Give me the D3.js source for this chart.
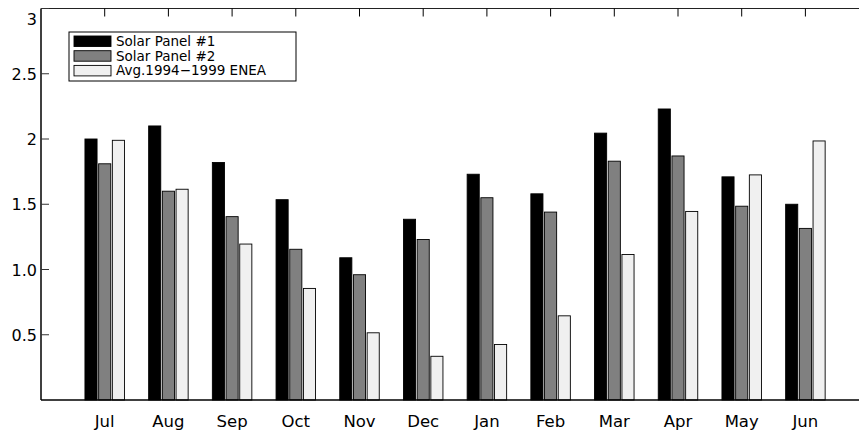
<!DOCTYPE html>
<html>
<head>
<meta charset="utf-8">
<script src="https://cdn.jsdelivr.net/npm/d3@7"></script>
<style>
  body { margin: 0; background: #fff; }
  svg text { font-family: "DejaVu Sans", sans-serif; fill: #000; }
</style>
</head>
<body>
<svg id="chart"></svg>
<script>
// data
var months = ["Jul", "Aug", "Sep", "Oct", "Nov", "Dec", "Jan", "Feb", "Mar", "Apr", "May", "Jun"];
var panel1 = [2.00, 2.10, 1.82, 1.535, 1.09, 1.385, 1.73, 1.58, 2.045, 2.23, 1.71, 1.50];
var panel2 = [1.81, 1.60, 1.405, 1.155, 0.96, 1.23, 1.55, 1.44, 1.83, 1.87, 1.485, 1.315];
var enea   = [1.99, 1.615, 1.195, 0.855, 0.515, 0.335, 0.425, 0.645, 1.115, 1.445, 1.725, 1.985];
var seriesNames = ["Solar Panel #1", "Solar Panel #2", "Avg.1994\u22121999 ENEA"];
var seriesColors = ["#000000", "#808080", "#f0f0f0"];
var yTicks = [0.5, 1.0, 1.5, 2, 2.5, 3];
var yTickLabels = ["0.5", "1.0", "1.5", "2", "2.5", "3"];

var width = 859, height = 432;
var plotLeft = 41, plotTop = 8.5, plotBottom = 400;

var svg = d3.select("#chart")
    .attr("width", width)
    .attr("height", height);

var x = d3.scaleLinear().domain([0, 13]).range([plotLeft, plotLeft + 13 * 63.7]);
var y = d3.scaleLinear().domain([0, 3]).range([plotBottom, plotTop]);

var series = [panel1, panel2, enea];
var barW = 0.19, step = 0.215;

// bars
series.forEach(function(vals, k) {
    svg.append("g").selectAll("rect")
        .data(vals)
        .join("rect")
        .attr("x", (d, i) => x(i + 1 + (k - 1) * step - barW / 2))
        .attr("width", x(barW) - x(0))
        .attr("y", d => y(d))
        .attr("height", d => y(0) - y(d))
        .attr("fill", seriesColors[k])
        .attr("stroke", "#000")
        .attr("stroke-width", 0.9);
});

// frame (left, top, bottom)
svg.append("line").attr("x1", plotLeft).attr("x2", plotLeft).attr("y1", y(3)).attr("y2", y(0))
    .attr("stroke", "#000").attr("stroke-width", 1.5);
svg.append("line").attr("x1", plotLeft).attr("x2", width).attr("y1", y(0)).attr("y2", y(0))
    .attr("stroke", "#000").attr("stroke-width", 1.5);
svg.append("line").attr("x1", plotLeft).attr("x2", width).attr("y1", y(3)).attr("y2", y(3))
    .attr("stroke", "#222").attr("stroke-width", 1.2);

// y ticks (inward) and labels
svg.append("g").selectAll("line")
    .data(yTicks)
    .join("line")
    .attr("x1", plotLeft).attr("x2", plotLeft + 8)
    .attr("y1", d => y(d)).attr("y2", d => y(d))
    .attr("stroke", "#333").attr("stroke-width", 1);

svg.append("g").selectAll("text")
    .data(yTicks)
    .join("text")
    .attr("x", 37)
    .attr("y", d => Math.max(y(d), 19) + 6)
    .attr("text-anchor", "end")
    .style("font-size", "16px")
    .text((d, i) => yTickLabels[i]);

// top ticks at month positions (downward)
svg.append("g").selectAll("line")
    .data(months)
    .join("line")
    .attr("x1", (d, i) => x(i + 1)).attr("x2", (d, i) => x(i + 1))
    .attr("y1", y(3)).attr("y2", y(3) + 8)
    .attr("stroke", "#000").attr("stroke-width", 1);

// month labels
svg.append("g").selectAll("text")
    .data(months)
    .join("text")
    .attr("x", (d, i) => x(i + 1))
    .attr("y", 427)
    .attr("text-anchor", "middle")
    .style("font-size", "16.5px")
    .text(d => d);

// legend
var legend = svg.append("g");
legend.append("rect")
    .attr("x", 69).attr("y", 32).attr("width", 227).attr("height", 49)
    .attr("fill", "#fff").attr("stroke", "#000").attr("stroke-width", 1);
seriesNames.forEach(function(name, k) {
    var cy = 41 + k * 14.7;
    legend.append("rect")
        .attr("x", 74).attr("y", cy - 5).attr("width", 37).attr("height", 10.5)
        .attr("fill", seriesColors[k]).attr("stroke", "#000").attr("stroke-width", 0.9);
    legend.append("text")
        .attr("x", 116).attr("y", cy + 5)
        .style("font-size", "13.5px")
        .text(name);
});
</script>
</body>
</html>
